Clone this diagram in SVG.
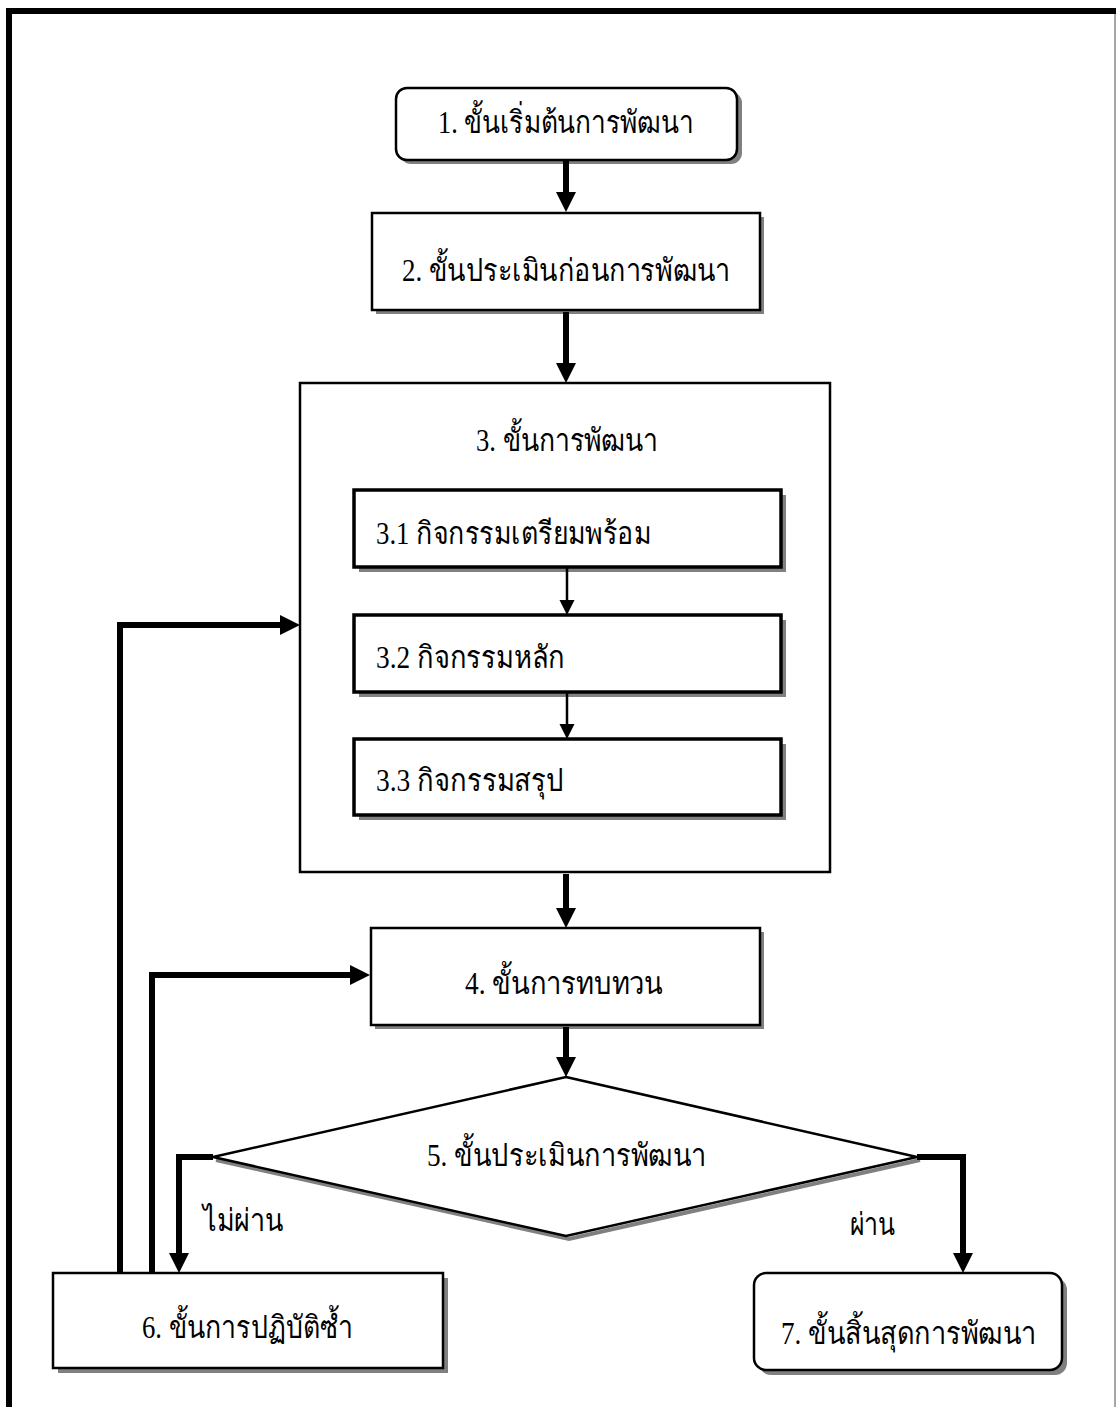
<svg xmlns="http://www.w3.org/2000/svg" width="1116" height="1407" viewBox="0 0 1116 1407">
<style>
  .box{fill:#fff;stroke:#000;stroke-width:2.5}
  .sub{fill:#fff;stroke:#000;stroke-width:3.5}
  .shadow{fill:#808080;stroke:none}
  .t{font-family:"Liberation Serif","Noto Sans",serif;font-size:31px;fill:#000}
  .thick{fill:none;stroke:#000;stroke-width:6}
  .thin{fill:none;stroke:#000;stroke-width:2.5}
</style>
<defs>
  <marker id="ah" markerUnits="userSpaceOnUse" markerWidth="22" markerHeight="22" refX="0" refY="10" orient="auto">
    <path d="M0,0 L20,10 L0,20 z" fill="#000"/>
  </marker>
  <marker id="ahs" markerUnits="userSpaceOnUse" markerWidth="16" markerHeight="16" refX="0" refY="7.5" orient="auto">
    <path d="M0,0 L15,7.5 L0,15 z" fill="#000"/>
  </marker>
</defs>
<rect width="1116" height="1407" fill="#fff"/>
<!-- page frame -->
<path d="M9,1407 V11 H1116" fill="none" stroke="#000" stroke-width="6"/>
<line x1="1115" y1="14" x2="1115" y2="1407" stroke="#888" stroke-width="1.5"/>

<g id="node1">
  <rect class="shadow" x="400" y="92" width="342" height="72" rx="11"/>
  <rect class="box" x="396" y="88" width="341" height="72" rx="11"/>
  <text class="t" x="438" y="133" textLength="255" lengthAdjust="spacingAndGlyphs">1. ขั้นเริ่มต้นการพัฒนา</text>
</g>
<g id="node2">
  <rect class="shadow" x="376" y="217" width="388" height="97"/>
  <rect class="box" x="372" y="213" width="388" height="97"/>
  <text class="t" x="402" y="281" textLength="328" lengthAdjust="spacingAndGlyphs">2. ขั้นประเมินก่อนการพัฒนา</text>
</g>
<g id="node3">
  <rect class="box" x="300" y="383" width="530" height="489"/>
  <text class="t" x="476" y="451" textLength="182" lengthAdjust="spacingAndGlyphs">3. ขั้นการพัฒนา</text>
</g>
<g id="node3_1">
  <rect class="shadow" x="359" y="495" width="427" height="77"/>
  <rect class="sub" x="354" y="490" width="427" height="77"/>
  <text class="t" x="376" y="544" textLength="275" lengthAdjust="spacingAndGlyphs">3.1 กิจกรรมเตรียมพร้อม</text>
</g>
<g id="node3_2">
  <rect class="shadow" x="359" y="620" width="427" height="77"/>
  <rect class="sub" x="354" y="615" width="427" height="77"/>
  <text class="t" x="376" y="668" textLength="189" lengthAdjust="spacingAndGlyphs">3.2 กิจกรรมหลัก</text>
</g>
<g id="node3_3">
  <rect class="shadow" x="359" y="744" width="427" height="76"/>
  <rect class="sub" x="354" y="739" width="427" height="76"/>
  <text class="t" x="376" y="791" textLength="188" lengthAdjust="spacingAndGlyphs">3.3 กิจกรรมสรุป</text>
</g>
<g id="node4">
  <rect class="shadow" x="375" y="932" width="389" height="97"/>
  <rect class="box" x="371" y="928" width="389" height="97"/>
  <text class="t" x="465" y="994" textLength="198" lengthAdjust="spacingAndGlyphs">4. ขั้นการทบทวน</text>
</g>
<g id="node5">
  <polyline points="216,1160 569,1239 920,1160" fill="none" stroke="#808080" stroke-width="4"/>
  <polygon class="box" points="566,1077 917,1157 566,1236 213,1157"/>
  <text class="t" x="427" y="1166" textLength="279" lengthAdjust="spacingAndGlyphs">5. ขั้นประเมินการพัฒนา</text>
</g>
<g id="node6">
  <rect class="shadow" x="58" y="1278" width="390" height="95"/>
  <rect class="box" x="53" y="1273" width="390" height="95"/>
  <text class="t" x="142" y="1338" textLength="211" lengthAdjust="spacingAndGlyphs">6. ขั้นการปฏิบัติซ้ำ</text>
</g>
<g id="node7">
  <rect class="shadow" x="759" y="1278" width="308" height="97" rx="12"/>
  <rect class="box" x="754" y="1273" width="308" height="97" rx="12"/>
  <text class="t" x="781" y="1344" textLength="255" lengthAdjust="spacingAndGlyphs">7. ขั้นสิ้นสุดการพัฒนา</text>
</g>

<g id="connectors">
  <path class="thick" d="M566,161 V192" marker-end="url(#ah)"/>
  <path class="thick" d="M566,312 V363" marker-end="url(#ah)"/>
  <path class="thin" d="M567,568 V600" marker-end="url(#ahs)"/>
  <path class="thin" d="M567,693 V724" marker-end="url(#ahs)"/>
  <path class="thick" d="M566,874 V908" marker-end="url(#ah)"/>
  <path class="thick" d="M566,1027 V1057" marker-end="url(#ah)"/>
  <path class="thick" d="M917,1157 H963 V1253" marker-end="url(#ah)"/>
  <path class="thick" d="M213,1157 H179 V1253" marker-end="url(#ah)"/>
  <path class="thick" d="M120,1273 V625 H280" marker-end="url(#ah)"/>
  <path class="thick" d="M152,1273 V975 H350" marker-end="url(#ah)"/>
  <text class="t" x="203" y="1231" textLength="80" lengthAdjust="spacingAndGlyphs">ไม่ผ่าน</text>
  <text class="t" x="850" y="1235" textLength="45" lengthAdjust="spacingAndGlyphs">ผ่าน</text>
</g>
</svg>
